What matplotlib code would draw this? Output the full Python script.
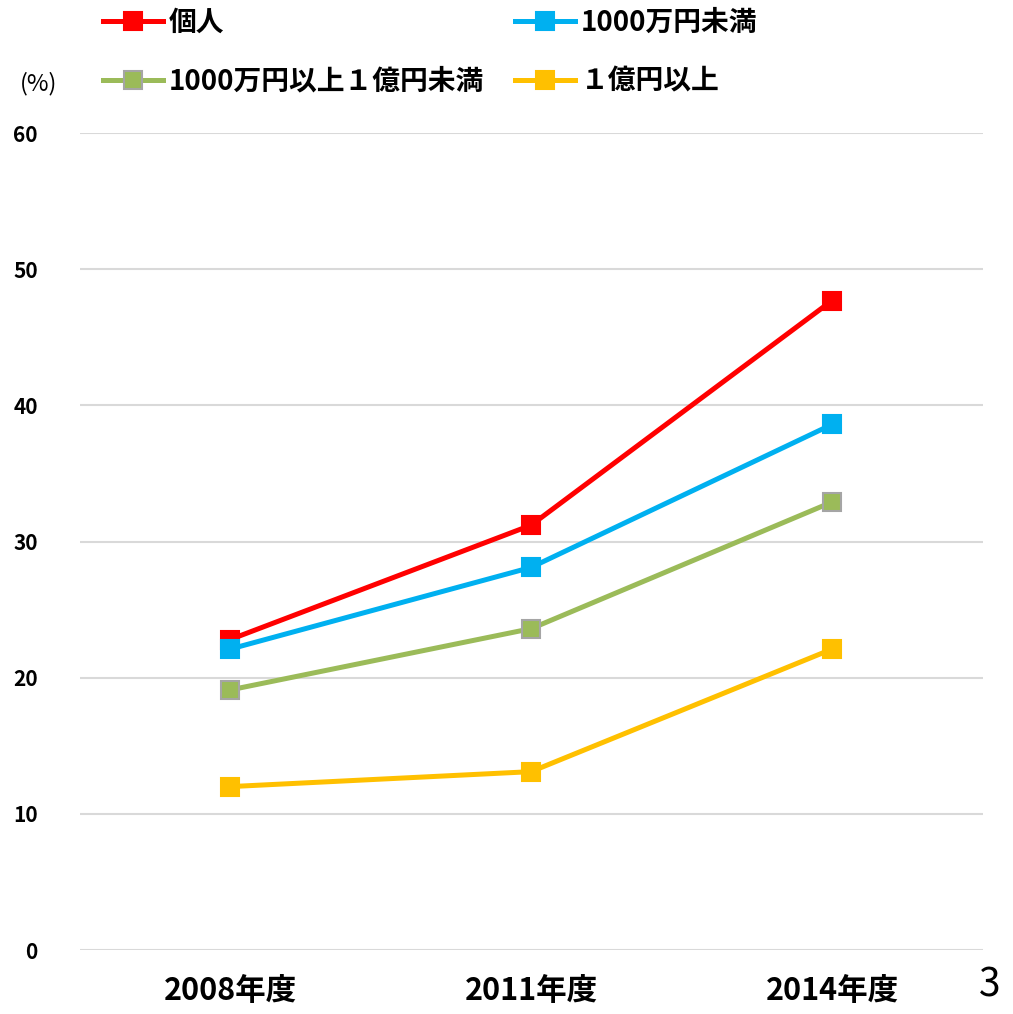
import numpy as np
import matplotlib
matplotlib.use("Agg")
import matplotlib.pyplot as plt

plt.rcParams['font.family'] = ['Noto Sans CJK JP', 'DejaVu Sans']

years = ["2008年度", "2011年度", "2014年度"]
kojin = [22.8, 31.2, 47.7]
under_10m = [22.1, 28.1, 38.6]
mid = [19.1, 23.6, 32.9]
over_100m = [12.0, 13.1, 22.1]

series = [
    ("個人", kojin, "#FF0000", "#FF0000"),
    ("1000万円未満", under_10m, "#00B0F0", "#00B0F0"),
    ("1000万円以上１億円未満", mid, "#9BBB59", "#A5A5A5"),
    ("１億円以上", over_100m, "#FFC000", "#FFC000"),
]

fig = plt.figure(figsize=(10.13, 10.14), dpi=100)
ax = fig.add_axes([0.0785, 0.0631, 0.8915, 0.8057])

x = np.arange(len(years))
handles = []
for name, vals, col, edge in series:
    h, = ax.plot(x, vals, color=col, lw=3.6, marker="s", ms=13,
                 mfc=col, mec=edge, mew=1.5, label=name, zorder=3)
    handles.append(h)

ax.set_xlim(-0.5, 2.5)
ax.set_ylim(0, 60)
ax.set_yticks(range(0, 61, 10))
ax.set_xticks(x)
ax.set_xticklabels(years, fontsize=22, fontweight="bold")
for lab in ax.get_yticklabels():
    lab.set_fontsize(15)
    lab.set_fontweight("bold")
ax.tick_params(length=0)
ax.tick_params(axis="y", pad=30)
ax.tick_params(axis="x", pad=18)
ax.grid(axis="y", color="#D9D9D9", lw=1.5)
ax.set_axisbelow(True)
for s in ax.spines.values():
    s.set_visible(False)

fig.text(0.02, 0.918, "(%)", fontsize=17, va="center", ha="left")
fig.text(0.966, 0.028, "3", fontsize=28, va="center", ha="left")

# legend fills column-wise: reorder so rows read 個人 / 1000万円未満, then the others
order = [0, 2, 1, 3]
fig.legend(handles=[handles[i] for i in order], ncol=2, loc="upper left",
           bbox_to_anchor=(0.077, 1.016), frameon=False,
           prop={"size": 20, "weight": "bold"},
           handlelength=2.15, handletextpad=0.2, columnspacing=1.15,
           labelspacing=1.1)

fig.savefig("out.png", dpi=100)
